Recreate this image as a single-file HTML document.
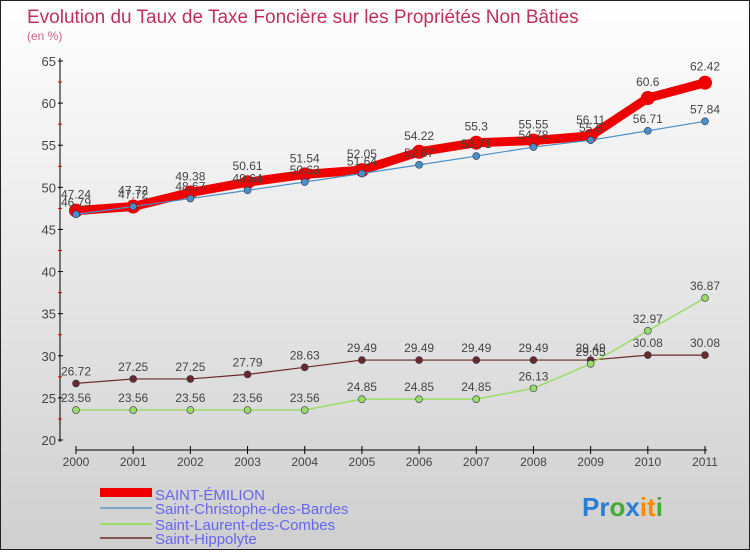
<!DOCTYPE html>
<html><head><meta charset="utf-8"><style>
body{margin:0;width:750px;height:550px;overflow:hidden;font-family:"Liberation Sans",sans-serif}
</style></head><body>
<svg id="c" width="750" height="550" xmlns="http://www.w3.org/2000/svg">
<defs><linearGradient id="bg" x1="0" y1="0" x2="0" y2="1"><stop offset="0" stop-color="#ffffff"/><stop offset="1" stop-color="#cfcfcf"/></linearGradient></defs>
<rect x="0.5" y="0.5" width="749" height="549" fill="url(#bg)" stroke="#222"/>
<text x="27" y="23" font-size="19" fill="#c0305a">Evolution du Taux de Taxe Foncière sur les Propriétés Non Bâties</text>
<text x="27" y="40" font-size="12" fill="#d0608a">(en %)</text>
<g id="axes"></g><g id="series"></g>
<g>
<rect x="100" y="488" width="52" height="9" fill="#e00"/>
<text x="155" y="500" font-size="15" fill="#6666ee">SAINT-ÉMILION</text>
<rect x="100" y="507" width="52" height="2" fill="#7aa8cc"/>
<text x="155" y="514" font-size="15" fill="#6666ee">Saint-Christophe-des-Bardes</text>
<rect x="100" y="523" width="52" height="2" fill="#99dd66"/>
<text x="155" y="530" font-size="15" fill="#6666ee">Saint-Laurent-des-Combes</text>
<rect x="100" y="537" width="52" height="2" fill="#8a5555"/>
<text x="155" y="544" font-size="15" fill="#6666ee">Saint-Hippolyte</text>
</g>
<text x="582" y="516" font-size="26" font-weight="bold"><tspan fill="#2a7fd4">Pr</tspan><tspan fill="#44aa33">o</tspan><tspan fill="#2a7fd4">x</tspan><tspan fill="#ff8800">it</tspan><tspan fill="#44aa33">i</tspan></text>
</svg>
<script>
const years=["2000","2001","2002","2003","2004","2005","2006","2007","2008","2009","2010","2011"];
const yTicks=[20,25,30,35,40,45,50,55,60,65];
const stEmilion=[47.24,47.72,49.38,50.61,51.54,52.05,54.22,55.3,55.55,56.11,60.6,62.42];
const stChristophe=[46.79,47.72,48.67,49.64,50.63,51.64,52.67,53.71,54.78,55.6,56.71,57.84];
const stLaurent=[23.56,23.56,23.56,23.56,23.56,24.85,24.85,24.85,26.13,29.05,32.97,36.87];
const stHippolyte=[26.72,27.25,27.25,27.79,28.63,29.49,29.49,29.49,29.49,29.49,30.08,30.08];
const NS="http://www.w3.org/2000/svg";
const xs=i=>76+i*(705-76)/11;
const ys=v=>440-(v-20)*(440-61)/45;
function mk(tag,attrs,parent){const e=document.createElementNS(NS,tag);for(const k in attrs)e.setAttribute(k,attrs[k]);parent.appendChild(e);return e;}
const ax=document.getElementById('axes');
let l=mk('line',{x1:60,y1:58,x2:60,y2:442,stroke:'#000'},ax);


yTicks.forEach(t=>{const y=ys(t);
 mk('line',{x1:58,y1:y,x2:63,y2:y,stroke:'#000'},ax);
 if(t<65){const m=mk('line',{x1:58,y1:ys(t+2.5),x2:62,y2:ys(t+2.5),stroke:'#d00'},ax);}
 const tx=mk('text',{x:56,y:y+5,'font-size':13,fill:'#444','text-anchor':'end'},ax);tx.textContent=t;
 
 
});
l=mk('line',{x1:76,y1:450,x2:707,y2:450,stroke:'#000'},ax);


years.forEach((yr,i)=>{const x=xs(i);
 mk('line',{x1:x,y1:446,x2:x,y2:454,stroke:'#000'},ax);
 const tx=mk('text',{x:x,y:466,'font-size':12,fill:'#444','text-anchor':'middle'},ax);tx.textContent=yr;
 
 
});
const sg=document.getElementById('series');
function draw(vals,color,w,r,name,labelColor,dy){
 const g=mk('g',{},sg);
 
 
 const p=mk('polyline',{points:vals.map((v,i)=>xs(i)+','+ys(v)).join(' '),fill:'none',stroke:color,'stroke-width':w,'stroke-linejoin':'round'},g);
 
 
 vals.forEach((v,i)=>{
  const c=mk('circle',{cx:xs(i),cy:ys(v),r:r,fill:color,stroke:w>3?color:'#335',"stroke-width":w>3?0:0.6},g);
  
  
  const t=mk('text',{x:xs(i),y:ys(v)+dy,'font-size':12,fill:'#444','text-anchor':'middle'},g);t.textContent=String(v);
  
  
 });
}
draw(stHippolyte,'#6a2a2a',1.2,3.5,'saint-hippolyte','#444',-8);
draw(stLaurent,'#99dd66',1.5,3.5,'saint-laurent','#444',-8);
draw(stEmilion,'#ee0000',9,7,'saint-emilion','#444',-12);
draw(stChristophe,'#4a90c8',1.2,3.5,'saint-christophe','#444',-8);
</script>
</body></html>
